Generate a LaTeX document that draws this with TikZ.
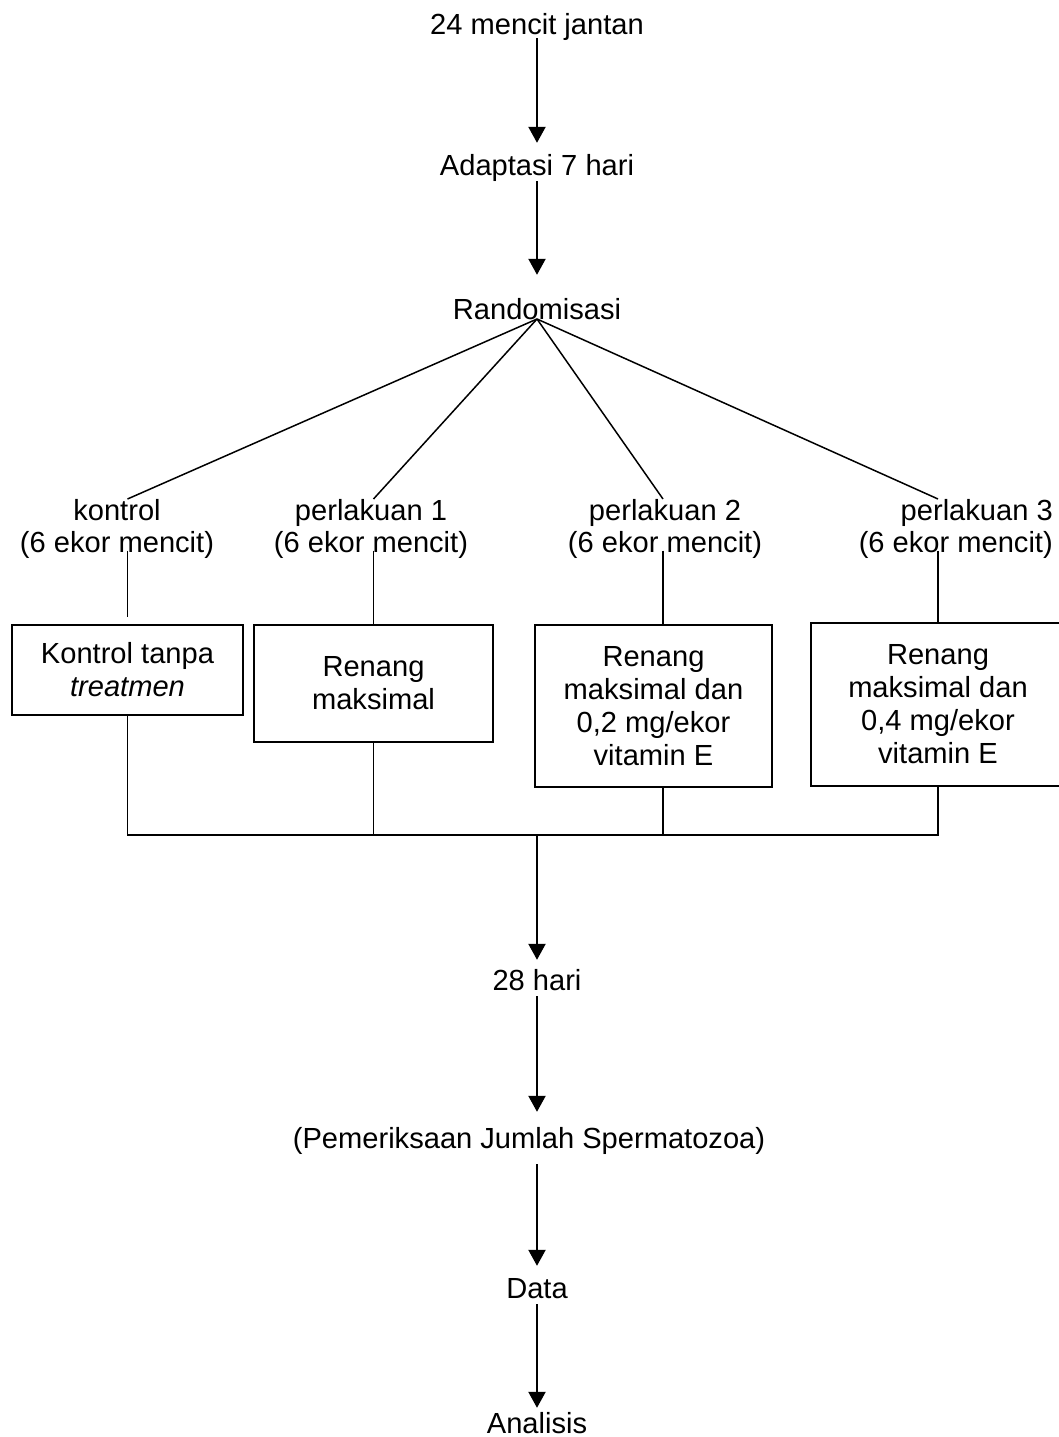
\documentclass[tikz,border=0pt]{standalone}
\usepackage{fontspec}
\setmainfont{Liberation Sans}
\usetikzlibrary{arrows.meta}
\begin{document}
\begin{tikzpicture}[x=1pt,y={(0pt,-1pt)},
  txt/.style={font=\fontsize{29.1}{32}\selectfont, inner sep=0pt, text height=21pt, text depth=6pt, anchor=base},
  grp/.style={font=\fontsize{29.1}{32}\selectfont, inner sep=0pt, align=center, anchor=north},
  boxnode/.style={draw, line width=1.5pt, inner sep=0pt, align=center, font=\fontsize{29.1}{33}\selectfont},
  ln/.style={line width=1.5pt},
  arr/.style={line width=2.2pt, -{Triangle[width=17pt,length=16pt]}}]
\useasboundingbox (0,0) rectangle (1059,1437);

% top chain
\node[txt] (n1) at (537,35) {24 mencit jantan};
\node[txt] (n2) at (537,175) {Adaptasi 7 hari};
\node[txt] (n3) at (537,319) {Randomisasi};

% group labels
\node[grp] (g1) at (117,499) {kontrol\\(6 ekor mencit)};
\node[grp] (g2) at (371,499) {perlakuan 1\\(6 ekor mencit)};
\node[grp] (g3) at (665,499) {perlakuan 2\\(6 ekor mencit)};
\node[grp, align=right, anchor=north east] (g4) at (1053,499) {perlakuan 3\\(6 ekor mencit)};

% boxes
\node[boxnode, minimum width=231pt, minimum height=90pt] (b1) at (127.5,670) {Kontrol tanpa\\\textit{treatmen}};
\node[boxnode, minimum width=239pt, minimum height=117pt] (b2) at (373.5,683.5) {Renang\\maksimal};
\node[boxnode, minimum width=237pt, minimum height=162pt] (b3) at (653.5,706) {Renang\\maksimal dan\\0,2 mg/ekor\\vitamin E};
\node[boxnode, minimum width=254pt, minimum height=163pt] (b4) at (938,704.5) {Renang\\maksimal dan\\0,4 mg/ekor\\vitamin E};

\coordinate (c3t) at ([xshift=9.5pt]b3.north);
\coordinate (c3b) at ([xshift=9.5pt]b3.south);
\coordinate (bar) at (537,835);

% bottom chain
\node[txt] (n28) at (537,990) {28 hari};
\node[txt] (np) at (529,1148) {(Pemeriksaan Jumlah Spermatozoa)};
\node[txt] (nd) at (537,1298) {Data};
\node[txt] (na) at (537,1433) {Analisis};

% arrows top
\draw[arr, shorten <=-3pt, shorten >=11pt] (n1.south) -- (n2.north);
\draw[arr, shorten >=23pt] (n2.south) -- (n3.north);

% diagonals
\draw[ln] (n3.base) -- (b1.north |- g1.north);
\draw[ln] (n3.base) -- (b2.north |- g2.north);
\draw[ln] (n3.base) -- (c3t |- g3.north);
\draw[ln] (n3.base) -- (b4.north |- g4.north);

% label to box
\draw[ln, shorten <=-8pt, shorten >=7pt] (b1.north |- g1.south) -- (b1.north);
\draw[ln, shorten <=-8pt] (b2.north |- g2.south) -- (b2.north);
\draw[ln, shorten <=-8pt] (c3t |- g3.south) -- (c3t);
\draw[ln, shorten <=-8pt] (b4.north |- g4.south) -- (b4.north);

% boxes to bar
\draw[ln] (b1.south) -- (b1.south |- bar) -- (b4.south |- bar) -- (b4.south);
\draw[ln] (b2.south) -- (b2.south |- bar);
\draw[ln] (c3b) -- (c3b |- bar);

% arrows bottom
\draw[arr, shorten >=9pt] (bar) -- (bar |- n28.north);
\draw[arr, shorten >=15pt] (n28.south) -- (n28.south |- np.north);
\draw[arr, shorten <=10pt, shorten >=11pt] (nd.north |- np.south) -- (nd.north);
\draw[arr, shorten >=4pt] (nd.south) -- (na.north);
\end{tikzpicture}
\end{document}
